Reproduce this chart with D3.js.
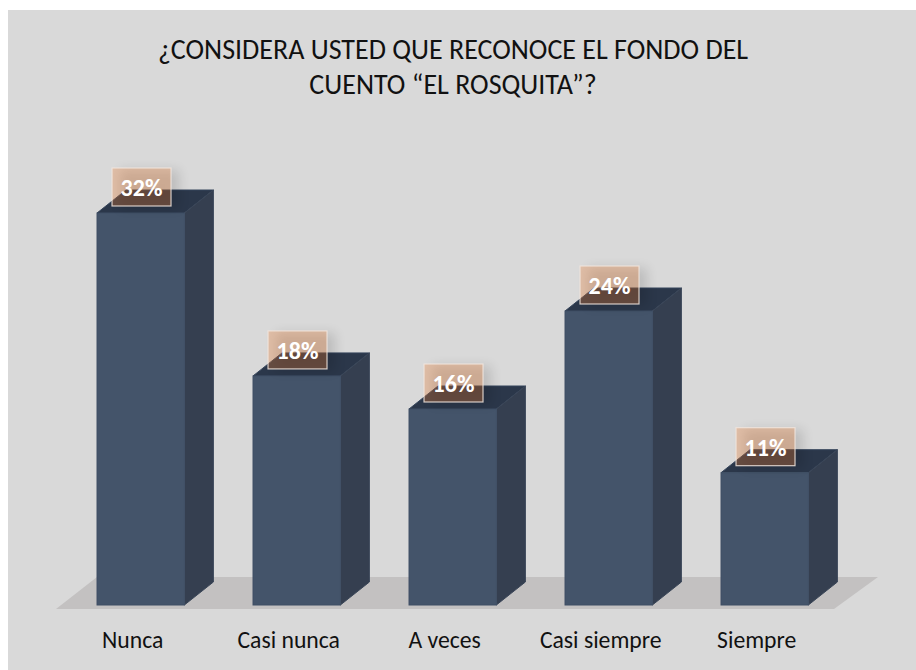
<!DOCTYPE html>
<html><head><meta charset="utf-8">
<script src="https://cdn.jsdelivr.net/npm/d3@7/dist/d3.min.js"></script>
<style>html,body{margin:0;padding:0;background:#fff}svg{display:block}text{font-family:Carlito,"Open Sans","Noto Sans",sans-serif}</style>
</head><body><div id="c"></div>
<script>
const categories=["Nunca","Casi nunca","A veces","Casi siempre","Siempre"];
const values=[32,18.7,16,24,10.8];
const labels=["32%","18%","16%","24%","11%"];
const titleLines=["¿CONSIDERA USTED QUE RECONOCE EL FONDO DEL","CUENTO “EL ROSQUITA”?"];

const W=916,H=670,dx=29,dy=23;
const svg=d3.select("#c").append("svg").attr("width",W).attr("height",H);
const defs=svg.append("defs");
const f=defs.append("filter").attr("id","sh").attr("x","-40%").attr("y","-40%").attr("width","180%").attr("height","180%");
f.append("feGaussianBlur").attr("stdDeviation",6);
svg.append("rect").attr("x",8).attr("y",10).attr("width",908).attr("height",660).attr("fill","#d9d9d9");
svg.selectAll(".t").data(titleLines).join("text").attr("class","t").attr("x",453).attr("y",(d,i)=>59+i*35)
 .attr("text-anchor","middle").attr("font-size",28).attr("fill","#111").text(d=>d);

const x=d3.scaleBand().domain(categories).range([62.7,842.7]).paddingInner(0.44).paddingOuter(0.22);
const y=d3.scaleLinear().domain([0,32]).range([605,213]);
svg.append("path").attr("d",d3.line()([[56,609],[834,609],[878,577],[97,577]])).attr("fill","#c3c1c1");
const g=svg.selectAll(".bar").data(categories).join("g").attr("class","bar");
const X=c=>x(c),B=x.bandwidth();
g.append("path").attr("d",(c,i)=>d3.line()([[X(c),y(values[i])],[X(c)+dx,y(values[i])-dy],[X(c)+B+dx,y(values[i])-dy],[X(c)+B,y(values[i])]])).attr("fill","#2b374a").attr("stroke","#35445a").attr("stroke-width",1);
g.append("path").attr("d",(c,i)=>d3.line()([[X(c)+B,y(values[i])],[X(c)+B+dx,y(values[i])-dy],[X(c)+B+dx,y(0)-dy],[X(c)+B,y(0)]])).attr("fill","#353f50").attr("stroke","#3a4658").attr("stroke-width",1);
g.append("rect").attr("x",c=>X(c)).attr("width",B).attr("y",(c,i)=>y(values[i])).attr("height",(c,i)=>y(0)-y(values[i])).attr("fill","#44546a").attr("stroke","#3e4e64").attr("stroke-width",1);
const LW=59,LH=38;
const lab=svg.selectAll(".lab").data(categories).join("g").attr("class","lab")
 .attr("transform",(c,i)=>`translate(${X(c)+15},${y(values[i])-45})`);
lab.append("rect").attr("x",8).attr("y",2).attr("width",LW).attr("height",LH).attr("fill","#000").attr("opacity",.13).attr("filter","url(#sh)");
lab.append("rect").attr("width",LW).attr("height",LH).attr("fill","#ed7d31").attr("fill-opacity",.3).attr("stroke","#f2e6de").attr("stroke-opacity",.85).attr("stroke-width",1.2);
lab.append("text").attr("x",LW/2).attr("y",28).attr("text-anchor","middle").attr("font-size",24).attr("font-weight",700).attr("fill","#fff").text((c,i)=>labels[i]);
svg.selectAll(".cat").data(categories).join("text").attr("class","cat").attr("x",c=>X(c)+B/2-8).attr("y",648).attr("text-anchor","middle").attr("font-size",23.7).attr("fill","#111").text(c=>c);
</script></body></html>
